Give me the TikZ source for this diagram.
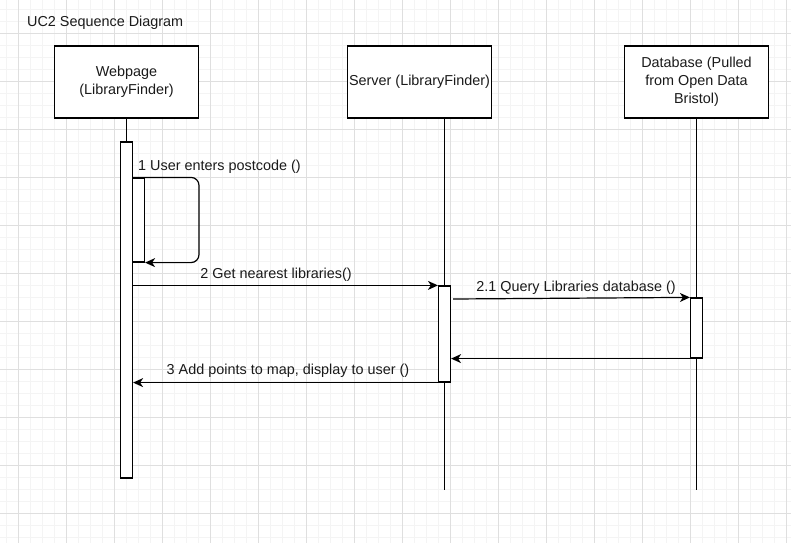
\documentclass[tikz,border=0pt]{standalone}
\usepackage{fontspec}
\setmainfont{Liberation Sans}
\usetikzlibrary{arrows.meta}
\definecolor{gridmaj}{HTML}{DFDFDF}
\definecolor{gridmin}{HTML}{F4F4F4}
\definecolor{ink}{HTML}{1A1A1A}
\begin{document}
\begin{tikzpicture}[x=1pt,y=-1pt,
  every node/.style={font=\fontsize{14.4}{18}\selectfont, text=ink},
  lifebox/.style={draw=black, line width=1.2pt, minimum width=144pt, minimum height=72pt, align=center, inner sep=1pt, fill=white},
  act/.style={draw=black, line width=1.2pt, minimum width=12pt, fill=white, inner sep=0pt},
  lifeline/.style={draw=black, line width=1pt},
  msg/.style={draw=black, line width=1.2pt, -{Stealth[length=10pt,width=9pt,inset=3pt]}},
  lbl/.style={inner sep=0pt}]
\useasboundingbox (0,0) rectangle (791,543);
\fill[white] (0,0) rectangle (791,543);
% grid
\foreach \x in {6.5,18.5,...,791} \draw[gridmin, line width=0.8pt] (\x,0) -- (\x,543);
\foreach \y in {9.3,21.3,...,543} \draw[gridmin, line width=0.8pt] (0,\y) -- (791,\y);
\foreach \x in {18.5,66.5,...,791} \draw[gridmaj, line width=0.8pt] (\x,0) -- (\x,543);
\foreach \y in {33.3,81.3,...,543} \draw[gridmaj, line width=0.8pt] (0,\y) -- (791,\y);

% title
\node[lbl, anchor=west] (title) at (27,23) {UC2 Sequence Diagram};

% participant boxes
\node[lifebox] (web) at (126.5,82) {Webpage\\(LibraryFinder)};
\node[lifebox] (srv) at (419.5,82) {Server (LibraryFinder)};
\node[lifebox] (db) at (696.5,82) {Database (Pulled\\from Open Data\\Bristol)};

% lifelines
\coordinate (sTop) at (444.5,118);
\coordinate (sBot) at (444.5,490);
\coordinate (dBot) at (696.5,490);
\draw[lifeline] (sTop) -- (sBot);
\draw[lifeline] (db.south) -- (dBot);

% activations
\node[act, minimum height=336pt] (a1) at (126.5,310) {};
\node[act, minimum height=84pt] (a2) at (138.5,220) {};
\node[act, minimum height=96pt] (a3) at (444.5,334) {};
\node[act, minimum height=60pt] (a4) at (696.5,328) {};
\draw[lifeline] (web.south) -- (a1.north);

% self message
\coordinate (loopR) at (199,220);
\draw[msg, rounded corners=8pt] (a1.east |- a2.north) -| (loopR |- a2.south) -- (a2.south east);
\node[lbl, anchor=west] (l1) at (138,167) {1 User enters postcode ()};

% messages
\draw[msg] (a1.east |- a3.north) -- (a3.north west);
\node[lbl] (l2) at (276,275) {2 Get nearest libraries()};

\coordinate (q0) at (453,299);
\draw[msg] (q0) -- (a4.north west);
\node[lbl] (l21) at (576,288) {2.1 Query Libraries database ()};

\draw[msg] (a4.south west) -- (a3.east |- a4.south);

\draw[msg] (a3.south west) -- (a1.east |- a3.south);
\node[lbl] (l3) at (288,371) {3 Add points to map, display to user ()};
\end{tikzpicture}
\end{document}
